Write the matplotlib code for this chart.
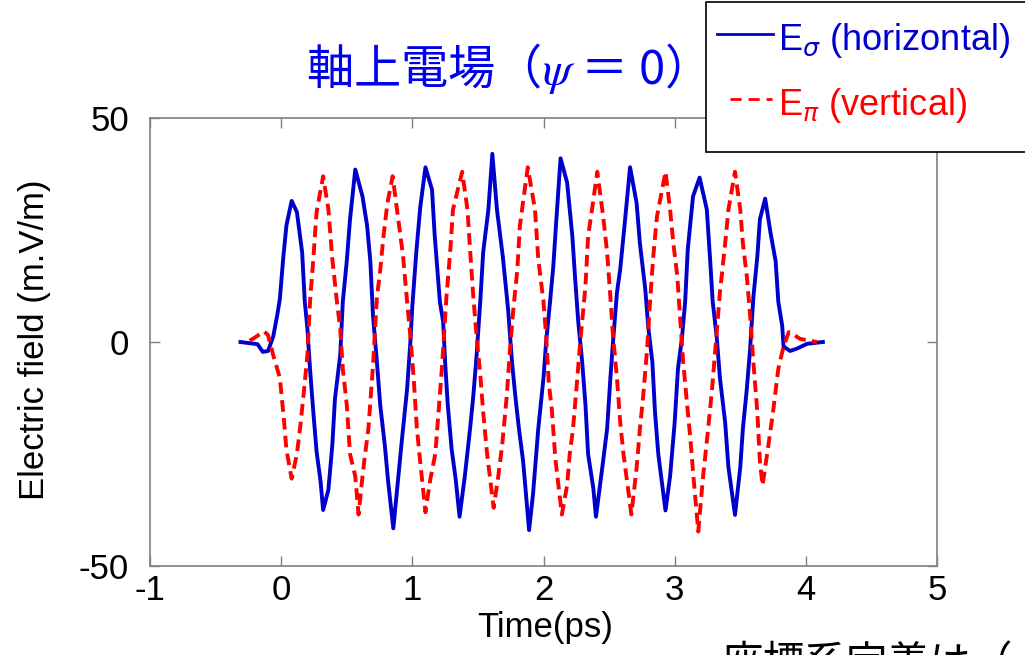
import matplotlib

matplotlib.use("Agg")
import matplotlib.pyplot as plt
from matplotlib.lines import Line2D
from matplotlib.patches import Rectangle

plt.rcParams["font.family"] = ["Liberation Sans", "DejaVu Sans"]

# E_sigma (horizontal)
T_SIGMA = [-0.31, -0.18, -0.14, -0.10, -0.06, -0.03, -0.01, 0.015, 0.04, 0.08, 0.12, 0.16, 0.18, 0.20,
           0.22, 0.245, 0.27, 0.30, 0.32, 0.36, 0.39, 0.41, 0.45, 0.47, 0.50, 0.525, 0.565, 0.62, 0.655,
           0.68, 0.70, 0.73, 0.755, 0.79, 0.815, 0.855, 0.89, 0.92, 0.96, 0.985, 1.0, 1.03, 1.06, 1.10,
           1.15, 1.17, 1.21, 1.235, 1.25, 1.27, 1.30, 1.33, 1.36, 1.40, 1.44, 1.465, 1.49, 1.52, 1.54,
           1.58, 1.61, 1.645, 1.69, 1.73, 1.76, 1.785, 1.81, 1.845, 1.89, 1.92, 1.96, 2.0, 2.02, 2.05,
           2.075, 2.095, 2.13, 2.18, 2.22, 2.24, 2.265, 2.295, 2.32, 2.34, 2.38, 2.40, 2.45, 2.485, 2.51,
           2.53, 2.56, 2.585, 2.62, 2.66, 2.71, 2.735, 2.775, 2.80, 2.83, 2.85, 2.875, 2.93, 2.965, 3.0,
           3.025, 3.055, 3.08, 3.10, 3.14, 3.19, 3.245, 3.27, 3.29, 3.32, 3.345, 3.385, 3.41, 3.46, 3.50,
           3.52, 3.55, 3.575, 3.60, 3.63, 3.65, 3.69, 3.73, 3.77, 3.79, 3.82, 3.83, 3.88, 3.93, 4.01, 4.13]
E_SIGMA = [0, -0.5, -2.2, -2, 1.3, 6, 9.6, 18.5, 26, 31.5, 29, 20, 9, 3,
           -6, -15.6, -24.5, -31, -37.5, -33, -23, -12.7, -3, 9, 18, 27.4, 38.5, 32.5, 26,
           18, 6, -4.5, -14, -23, -31, -41.6, -31, -22, -10.5, 0, 8, 20, 30, 39,
           34, 24, 9, 4.5, -4.5, -14, -24, -30.5, -39, -30, -19.4, -12, -3, 10, 20,
           29.6, 42, 29.6, 19, 7.3, -4.5, -12, -18.7, -26.7, -42, -34, -19.4, -8, 0, 9,
           17, 26, 41, 35.6, 23.6, 14.7, 4.5, -4.5, -14, -25, -32.7, -39, -27.6, -19.4, -8,
           0, 11, 16.3, 26.7, 39, 31, 22, 12, 3, -4.5, -15.6, -25, -37.6, -30, -18,
           -6, 0.7, 9, 20.7, 32.5, 36.7, 29.6, 18.5, 9, 1.3, -8, -18, -28, -38.6, -28,
           -19.4, -10.5, -1.6, 10, 19, 27.4, 32, 24.5, 18, 9, 3.6, -1, -2, -1.5, -0.4, 0]

# E_pi (vertical)
T_PI = [-0.24, -0.20, -0.13, -0.10, -0.06, -0.01, 0.02, 0.04, 0.08, 0.12, 0.145, 0.17, 0.20, 0.22,
        0.245, 0.27, 0.32, 0.36, 0.39, 0.425, 0.45, 0.47, 0.50, 0.525, 0.565, 0.59, 0.62, 0.64, 0.665,
        0.68, 0.70, 0.73, 0.755, 0.78, 0.81, 0.85, 0.89, 0.93, 0.96, 0.985, 1.01, 1.035, 1.06, 1.10,
        1.135, 1.175, 1.20, 1.225, 1.26, 1.29, 1.31, 1.38, 1.42, 1.44, 1.465, 1.49, 1.52, 1.54, 1.57,
        1.62, 1.655, 1.685, 1.72, 1.745, 1.77, 1.80, 1.82, 1.88, 1.935, 1.96, 2.0, 2.02, 2.04, 2.065,
        2.09, 2.14, 2.18, 2.20, 2.225, 2.255, 2.28, 2.32, 2.34, 2.37, 2.41, 2.455, 2.485, 2.51, 2.53,
        2.56, 2.585, 2.61, 2.67, 2.71, 2.735, 2.76, 2.79, 2.81, 2.835, 2.865, 2.93, 2.965, 2.99, 3.02,
        3.04, 3.065, 3.095, 3.12, 3.14, 3.18, 3.215, 3.255, 3.285, 3.31, 3.345, 3.385, 3.41, 3.46, 3.50,
        3.52, 3.55, 3.575, 3.60, 3.63, 3.65, 3.67, 3.71, 3.75, 3.79, 3.83, 3.87, 3.90, 3.955, 4.085]
E_PI = [0.3, 1, 2.4, 1.5, -3, -8, -17, -24, -30.5, -25, -19, -12, -3, 9,
        18.5, 29, 37, 29.6, 18.5, 9, 3, -6, -14, -25, -30, -38.5, -30, -25, -19.4,
        -13.4, -5.3, 10, 16, 23.6, 31, 37, 28, 19, 9, 1.3, -8, -19.4, -26.7, -38,
        -31, -25, -15.6, -6, 10, 20.7, 29.6, 38, 29.6, 20.7, 10, 1.3, -8, -15.6, -25,
        -37, -30, -23, -12, -1.6, 7.3, 16, 26, 39, 29.6, 18.5, 9, 1.3, -9, -15.6,
        -26, -38.5, -32, -25, -19.4, -9, 0, 12.5, 23.6, 29.6, 38, 28, 20, 10, 1.3,
        -8, -18, -25, -38.5, -28, -19.4, -12, -1.6, 8, 18.5, 28, 38, 29.6, 22, 14.7,
        6, -4.5, -14, -21.6, -29, -42.3, -30.5, -19.4, -10.5, -1.6, 11, 22, 29.6, 38, 29.6,
        22, 14.7, 6, -4.5, -15.6, -26.7, -32, -24, -15.6, -6, -1, 2.2, 1.8, 0.7, 0]

X_TICKS = [-1, 0, 1, 2, 3, 4, 5]
Y_TICKS = [-50, 0, 50]

BLUE = "#0000cc"
RED = "#ff0000"
W, H = 1025, 655

fig = plt.figure(figsize=(W / 100, H / 100), dpi=100)
ax = fig.add_axes([150 / W, 1 - 566 / H, 787 / W, 448 / H])

ax.plot(T_SIGMA, E_SIGMA, color=BLUE, lw=2.8)
ax.plot(T_PI, E_PI, color=RED, lw=2.8, ls=(0, (3, 1.6)))

ax.set_xlim(-1, 5)
ax.set_ylim(-50, 50)
ax.set_xticks(X_TICKS)
ax.set_xticklabels([str(v) for v in X_TICKS])
ax.set_yticks(Y_TICKS)
ax.set_yticklabels([str(v) for v in Y_TICKS])
ax.tick_params(direction="in", length=7, width=1, color="#808080", labelsize=25,
               top=True, right=True)
ax.tick_params(axis="x", pad=6)
ax.tick_params(axis="y", pad=15)
for s in ax.spines.values():
    s.set_color("#808080")
    s.set_linewidth(1.2)

ax.set_xlabel("Time(ps)", fontsize=25, va="center")
ax.xaxis.set_label_coords((545 - 150) / 787, -(628 - 566) / 448)
ax.set_ylabel("Electric field (m.V/m)", fontsize=25, va="center")
ax.yaxis.set_label_coords(-(150 - 35) / 787, (566 - 340) / 448)

# title
fig.text(493 / W, 1 - 68 / H, "軸上電場（$\\psi$ ＝ 0）", ha="center", va="center",
         fontsize=34, color="#0000ee", family=["Noto Sans CJK JP", "DejaVu Sans"],
         math_fontfamily="stix")

# legend box, running off the right edge like the source slide
fig.add_artist(Rectangle((706 / W, 1 - 152 / H), 0.33, 150 / H, transform=fig.transFigure,
                         facecolor="white", edgecolor="black", lw=1.2, zorder=5))
fig.add_artist(Line2D([717 / W, 773 / W], [1 - 34 / H] * 2, transform=fig.transFigure,
                      color=BLUE, lw=2, zorder=6))
fig.add_artist(Line2D([730 / W, 772 / W], [1 - 99 / H] * 2, transform=fig.transFigure,
                      color=RED, lw=2, ls=(0, (4, 2.5)), zorder=6))
fig.text(778 / W, 1 - 50 / H, "E$_{\\sigma}$ (horizontal)", ha="left", va="baseline",
         fontsize=26, color=BLUE, zorder=7)
fig.text(778 / W, 1 - 115 / H, "E$_{\\pi}$ (vertical)", ha="left", va="baseline",
         fontsize=26, color=RED, zorder=7)

# slide caption cut off by the bottom edge
fig.text(722 / W, 1 - 644 / H, "座標系定義は（", ha="left", va="top", fontsize=30,
         color="black", family=["Noto Sans CJK JP", "DejaVu Sans"])

fig.savefig("out.png", dpi=100)
